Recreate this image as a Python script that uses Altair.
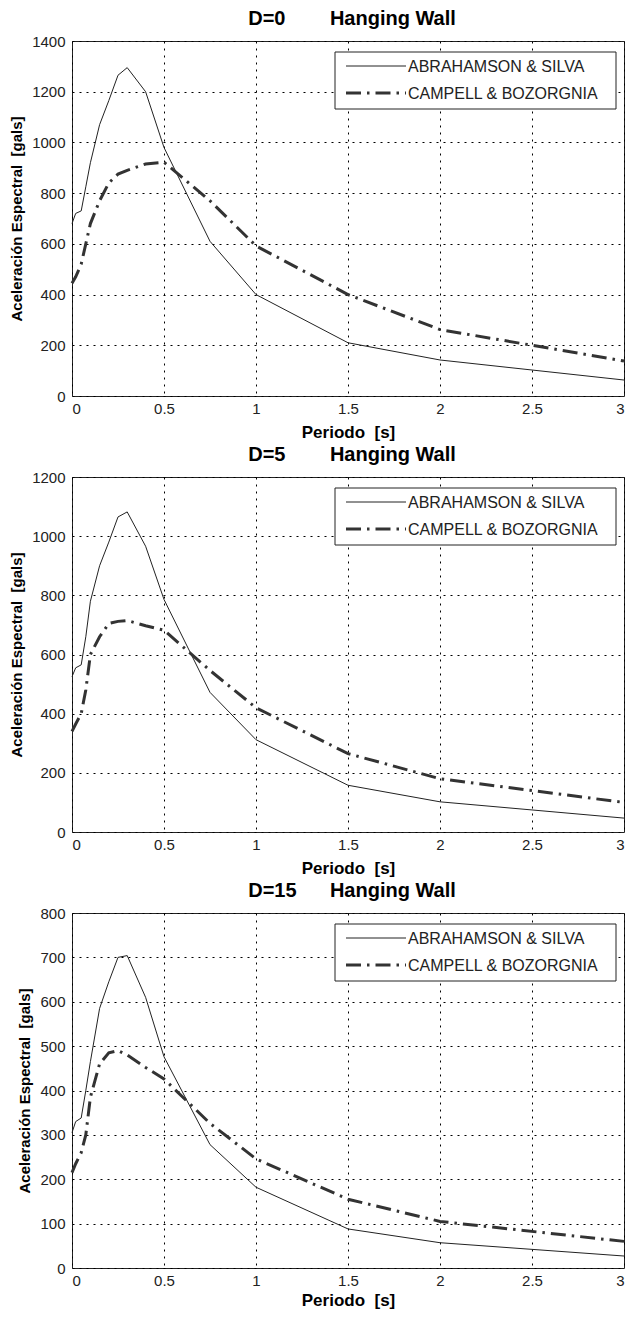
import altair as alt
import pandas as pd

# ---------------- data ----------------
periodos = [0.0, 0.02, 0.05, 0.075, 0.1, 0.15, 0.2, 0.25, 0.3, 0.4, 0.5, 0.75, 1.0, 1.5, 2.0, 3.0]

as_d0 = [680, 720, 730, 825, 920, 1070, 1165, 1265, 1295, 1200, 980, 610, 400, 210, 142, 63]
cb_d0 = [445, 470, 520, 600, 680, 770, 840, 875, 890, 915, 922, 770, 592, 400, 262, 138]

as_d5 = [525, 555, 565, 660, 780, 900, 980, 1065, 1082, 966, 786, 472, 312, 158, 102, 47]
cb_d5 = [340, 365, 400, 480, 600, 660, 705, 712, 715, 697, 682, 546, 420, 265, 180, 100]

as_d15 = [305, 330, 338, 400, 465, 585, 645, 700, 704, 610, 476, 278, 182, 88, 57, 27]
cb_d15 = [215, 235, 260, 300, 385, 460, 485, 490, 480, 452, 426, 326, 246, 155, 105, 60]

titulos = ["D=0", "D=5", "D=15"]
y_max = [1400, 1200, 800]
y_paso = [200, 200, 100]
x_ticks = [0, 0.5, 1, 1.5, 2, 2.5, 3]
leyenda = ["ABRAHAMSON & SILVA", "CAMPELL & BOZORGNIA"]
x_titulo = "Periodo\u00a0\u00a0[s]"
y_titulo = "Aceleración Espectral\u00a0\u00a0[gals]"

FONT = "Liberation Sans"
NB = "\u00a0"
W, H = 552, 355


def panel(idx, as_vals, cb_vals):
    df_as = pd.DataFrame({"T": periodos, "Sa": as_vals})
    df_cb = pd.DataFrame({"T": periodos, "Sa": cb_vals})
    ymax = y_max[idx]
    yvals = list(range(0, ymax + 1, y_paso[idx]))

    xenc = alt.X(
        "T:Q",
        scale=alt.Scale(domain=[0, 3], nice=False, zero=False),
        axis=alt.Axis(
            values=x_ticks, format="~g", title=x_titulo,
            titlePadding=(4 if idx == 2 else 8),
        ),
    )
    yenc = alt.Y(
        "Sa:Q",
        scale=alt.Scale(domain=[0, ymax], nice=False),
        axis=alt.Axis(values=yvals, format="d", title=y_titulo),
    )

    l_as = alt.Chart(df_as).mark_line(color="#222222", strokeWidth=1).encode(x=xenc, y=yenc)
    l_cb = alt.Chart(df_cb).mark_line(
        color="#333333", strokeWidth=3, strokeDash=[15, 6, 2.5, 6]
    ).encode(x="T:Q", y="Sa:Q")

    ley_df = pd.DataFrame({"k": [0]})
    bx2 = W - 8
    bx1 = bx2 - 281
    caja = alt.Chart(ley_df).mark_rect(fill="white", stroke="#222222", strokeWidth=1).encode(
        x=alt.value(bx1), x2=alt.value(bx2), y=alt.value(11), y2=alt.value(68)
    )
    r1 = alt.Chart(ley_df).mark_rule(color="#222222", strokeWidth=1).encode(
        x=alt.value(bx1 + 11), x2=alt.value(bx1 + 71), y=alt.value(25)
    )
    r2 = alt.Chart(ley_df).mark_rule(
        color="#333333", strokeWidth=3, strokeDash=[15, 6, 2.5, 6]
    ).encode(x=alt.value(bx1 + 11), x2=alt.value(bx1 + 71), y=alt.value(52))
    t1 = alt.Chart(ley_df).mark_text(
        align="left", baseline="middle", font=FONT, fontSize=16, color="#222222", text=leyenda[0]
    ).encode(x=alt.value(bx1 + 73), y=alt.value(26))
    t2 = alt.Chart(ley_df).mark_text(
        align="left", baseline="middle", font=FONT, fontSize=16, color="#222222", text=leyenda[1]
    ).encode(x=alt.value(bx1 + 73), y=alt.value(53))

    gap = NB * (6 if len(titulos[idx]) > 3 else 8)
    titulo = titulos[idx] + gap + "Hanging Wall"
    tt = alt.Chart(ley_df).mark_text(
        align="center", baseline="alphabetic", font=FONT, fontSize=20,
        fontWeight="bold", color="#000000", text=titulo,
    ).encode(x=alt.value(280), y=alt.value(-16))

    return alt.layer(l_as, l_cb, caja, r1, r2, t1, t2, tt).properties(width=W, height=H)


chart = (
    alt.vconcat(
        panel(0, as_d0, cb_d0),
        panel(1, as_d5, cb_d5),
        panel(2, as_d15, cb_d15),
        spacing=81,
        bounds="flush",
    )
    .properties(padding={"left": 1, "top": 0, "right": 0, "bottom": 0})
    .configure_view(stroke="#222222", strokeWidth=1)
    .configure_axis(
        labelFont=FONT,
        labelFontSize=15,
        labelColor="#222222",
        titleFont=FONT,
        titleFontWeight="bold",
        titleColor="#000000",
        grid=True,
        gridColor="#000000",
        gridOpacity=1,
        gridWidth=1,
        gridDash=[2, 5],
        ticks=False,
        domain=False,
    )
    .configure_axisX(labelPadding=5, titleFontSize=17)
    .configure_axisY(labelPadding=7, titlePadding=7, titleFontSize=15)
)

chart.save("out.html", embed_options={"renderer": "svg", "actions": False})
